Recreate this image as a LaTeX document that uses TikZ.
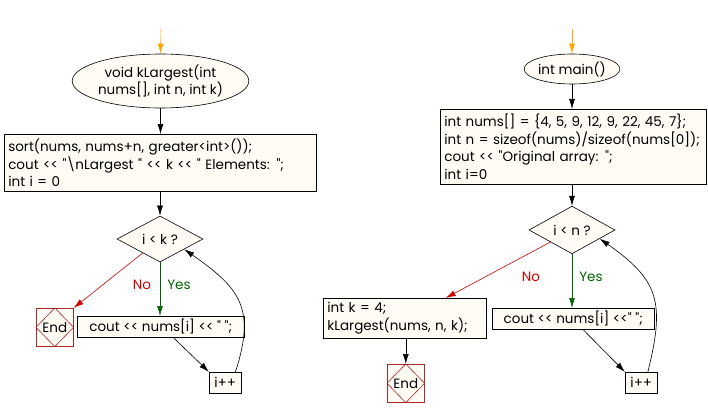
\documentclass[tikz,border=0pt]{standalone}
\usepackage{fontspec}
\setmainfont{Poppins}[Ligatures=TeXOff]
\usepackage{tikz}
\usetikzlibrary{shapes.geometric,arrows.meta,calc}
\definecolor{crema}{RGB}{255,251,245}
\definecolor{rojo}{RGB}{204,0,0}
\definecolor{verde}{RGB}{0,100,0}
\definecolor{ladrillo}{RGB}{170,40,40}
\definecolor{naranja}{RGB}{255,165,0}
\tikzstyle{terminal} = [draw, ellipse, fill=crema, inner sep=0pt, align=center]
\tikzstyle{proceso} = [draw, rectangle, fill=crema, inner xsep=4pt, inner ysep=2pt, align=left, anchor=north west]
\tikzstyle{decision} = [draw, diamond, fill=crema, inner sep=0pt, minimum width=86pt, minimum height=44pt]
\tikzstyle{fin} = [draw=ladrillo, rectangle, fill=crema, inner sep=0pt, minimum width=37pt, minimum height=38pt, anchor=north west]
\tikzstyle{flecha} = [-{Latex[length=10pt,width=6pt]}]

\begin{document}
\begin{tikzpicture}[x=1pt, y=-1pt, line width=0.6pt, font=\fontsize{13.5}{17.5}\selectfont]
	\useasboundingbox[fill=white] (0,0) rectangle (708,417);
	% kLargest
	\coordinate (ini1) at (161,29);
	\node[terminal, minimum width=153pt, minimum height=54pt](fn) at (160.5,81) {void kLargest(int\\nums[], int n, int k)};
	\node[proceso, text width=304pt, minimum height=57pt](sort) at (4,134) {sort(nums, nums+n, greater<int>());\\cout << "\textbackslash nLargest " << k << " Elements: ";\\int i = 0};
	\node[decision](cond1) at (160,239) {i < k ?};
	\node[fin](end1) at (36,308) {End};
	\node[proceso, align=center, minimum width=167pt, minimum height=21pt, inner sep=0pt](out1) at (77,316) {cout << nums[i] << " ";};
	\node[proceso, align=center, minimum width=32pt, minimum height=21pt, inner sep=0pt](inc1) at (209,372) {i++};
	\node[text=rojo](no1) at (142,285) {No};
	\node[text=verde](yes1) at (179,285) {Yes};
	\draw[flecha, naranja] (ini1) -- (fn.north);
	\draw[flecha] (fn.south) -- (sort.north -| fn.south);
	\draw[flecha] (sort.south -| cond1.north) -- (cond1.north);
	\draw[flecha, verde] (cond1.south) -- (out1.north -| cond1.south);
	\draw[flecha, rojo] ($(cond1.west)!0.6!(cond1.south)$) -- (end1.north east);
	\draw[ladrillo] (end1.north) -- (end1.east) -- (end1.south) -- (end1.west) -- cycle;
	\draw[flecha] ($(out1.south)!0.15!(out1.south east)$) -- (inc1.north west);
	\draw[flecha] ($(inc1.north)!0.62!(inc1.north east)$) to[out=72, in=-35, looseness=1.3] ($(cond1.east)!0.44!(cond1.south)$);
	% main
	\coordinate (ini2) at (572,29);
	\node[terminal, minimum width=85pt, minimum height=30pt](main) at (572,69) {int main()};
	\node[proceso, text width=258pt, minimum height=75pt](init) at (440,109) {int nums[] = \{4, 5, 9, 12, 9, 22, 45, 7\};\\int n = sizeof(nums)/sizeof(nums[0]);\\cout << "Original array: ";\\int i=0};
	\node[decision](cond2) at (572,230) {i < n ?};
	\node[proceso, text width=155pt, minimum height=40pt](call) at (323,298) {int k = 4;\\kLargest(nums, n, k);};
	\node[fin](end2) at (387,364) {End};
	\node[proceso, align=center, minimum width=162pt, minimum height=21pt, inner sep=0pt](out2) at (492,308) {cout << nums[i] <<" ";};
	\node[proceso, align=center, minimum width=32pt, minimum height=21pt, inner sep=0pt](inc2) at (625,372) {i++};
	\node[text=rojo](no2) at (531,277) {No};
	\node[text=verde](yes2) at (591,277) {Yes};
	\draw[flecha, naranja] (ini2) -- (main.north);
	\draw[flecha] (main.south) -- (init.north -| main.south);
	\draw[flecha] (init.south -| cond2.north) -- (cond2.north);
	\draw[flecha, verde] (cond2.south) -- (out2.north -| cond2.south);
	\draw[flecha, rojo] (cond2.south west) -- ($(call.north)!0.5!(call.north east)$);
	\draw[flecha] (call.south -| end2.north) -- (end2.north);
	\draw[ladrillo] (end2.north) -- (end2.east) -- (end2.south) -- (end2.west) -- cycle;
	\draw[flecha] ($(out2.south)!0.12!(out2.south east)$) -- (inc2.north west);
	\draw[flecha] ($(inc2.north)!0.4!(inc2.north east)$) to[out=76, in=-35, looseness=1.3] ($(cond2.east)!0.36!(cond2.south)$);
\end{tikzpicture}
\end{document}
